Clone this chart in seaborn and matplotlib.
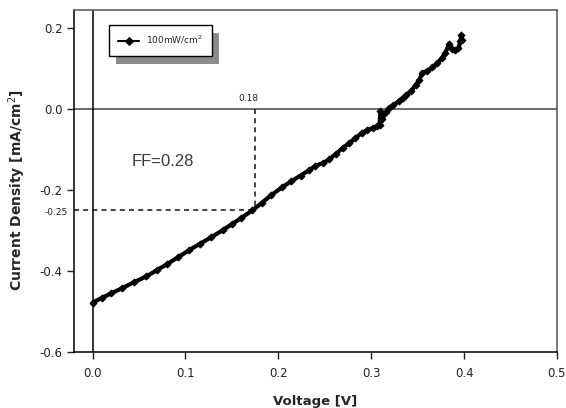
import numpy as np
import pandas as pd
import matplotlib
matplotlib.use("Agg")
import matplotlib.pyplot as plt
from matplotlib.patches import Rectangle
import seaborn as sns

# J-V curve under illumination
voltage = [0.000, 0.010, 0.020, 0.032, 0.045, 0.058, 0.069, 0.080, 0.092, 0.104,
           0.116, 0.128, 0.140, 0.150, 0.160, 0.172, 0.182, 0.192, 0.204, 0.214,
           0.224, 0.233, 0.240, 0.248, 0.255, 0.262, 0.270, 0.276, 0.283, 0.290,
           0.296, 0.302, 0.306, 0.309, 0.310, 0.312, 0.316, 0.319, 0.324, 0.330,
           0.334, 0.338, 0.343, 0.348, 0.352, 0.355, 0.360, 0.366, 0.371, 0.376,
           0.380, 0.384, 0.387, 0.390, 0.394, 0.396, 0.397, 0.398]
current = [-0.478, -0.466, -0.455, -0.442, -0.427, -0.413, -0.398, -0.383, -0.366, -0.348,
           -0.332, -0.316, -0.299, -0.284, -0.269, -0.250, -0.232, -0.213, -0.193, -0.178,
           -0.164, -0.151, -0.140, -0.133, -0.124, -0.110, -0.095, -0.084, -0.072, -0.058,
           -0.052, -0.046, -0.042, -0.038, -0.005, -0.025, -0.008, 0.002, 0.010, 0.020,
           0.028, 0.036, 0.045, 0.060, 0.072, 0.090, 0.094, 0.103, 0.113, 0.126,
           0.140, 0.162, 0.148, 0.145, 0.150, 0.168, 0.183, 0.170]
series_label = "100mW/cm$^2$"

# max power point and fill factor
v_mp = 0.175
j_mp = -0.25
v_mp_text = "0.18"
j_mp_text = "-0.25"
ff_text = "FF=0.28"

x_ticks = [0.0, 0.1, 0.2, 0.3, 0.4, 0.5]
y_ticks = [-0.6, -0.4, -0.2, 0.0, 0.2]

sns.set_theme(style="white")
plt.rcParams["font.family"] = ["DejaVu Sans"]
plt.rcParams["axes.unicode_minus"] = False

df = pd.DataFrame({"Voltage": voltage, "Current": current, "curve": series_label})

fig = plt.figure(figsize=(5.66, 4.08), dpi=100)
ax = fig.add_axes([0.1307, 0.137, 0.8533, 0.8385])

ax.axhline(0, color="#444444", lw=1.1, zorder=1)
ax.axvline(0, color="black", lw=1.1, zorder=1)

sns.lineplot(data=df, x="Voltage", y="Current", hue="curve", palette=["black"],
             sort=False, estimator=None, lw=3, marker="D", markersize=3.5,
             markeredgecolor="black", ax=ax, zorder=3)

ax.plot([v_mp, v_mp], [0, j_mp], ls=(0, (3, 2.5)), color="#222222", lw=1.2, zorder=2)
ax.plot([-0.02, v_mp], [j_mp, j_mp], ls=(0, (3, 2.5)), color="#222222", lw=1.2, zorder=2)

ax.text(0.168, 0.015, v_mp_text, ha="center", va="bottom", fontsize=6.5, color="#222222")
ax.text(0.042, -0.13, ff_text, ha="left", va="center", fontsize=12,
        family="Liberation Sans", color="#3a3a3a")
ax.text(-0.013, j_mp - 0.004, j_mp_text, ha="right", va="center", fontsize=6.5,
        color="#222222", transform=ax.get_yaxis_transform())

ax.set_xlim(-0.02, 0.5)
ax.set_ylim(-0.6, 0.245)
ax.set_xticks(x_ticks)
ax.set_yticks(y_ticks)
ax.set_xticklabels([f"{t:.1f}" for t in x_ticks])
ax.set_yticklabels([f"{t:.1f}" for t in y_ticks])
ax.tick_params(axis="both", direction="out", length=5, width=1, colors="#222222",
               labelsize=8.5, pad=3)
ax.tick_params(axis="x", bottom=True, pad=6)
ax.tick_params(axis="y", left=True)

ax.set_xlabel("Voltage [V]", fontsize=9.5, fontweight="bold")
ax.set_ylabel("Current Density [mA/cm$^2$]", fontsize=10, fontweight="bold")
ax.xaxis.set_label_coords(0.5, -0.125)
ax.yaxis.set_label_coords(-0.095, 0.475)

for side, sp in ax.spines.items():
    sp.set_visible(True)
    sp.set_linewidth(1.1)
    sp.set_color("black" if side in ("left", "bottom") else "#555555")

leg = ax.legend(loc="upper left", bbox_to_anchor=(0.072, 0.956), borderaxespad=0,
                fontsize=6.5, frameon=True, fancybox=False, handlelength=2.4,
                handletextpad=0.7, borderpad=1.0, edgecolor="black", framealpha=1)
leg.get_frame().set_linewidth(1.0)
leg.set_zorder(5)
for h in leg.legend_handles:
    h.set_linewidth(1.5)
    h.set_markersize(4)

# grey drop shadow behind the legend box
fig.canvas.draw()
bb = leg.get_window_extent()
shadow = Rectangle((bb.x0 + 7, bb.y0 - 8), bb.width, bb.height, transform=None,
                   facecolor="#8c8c8c", edgecolor="none", zorder=4)
ax.add_artist(shadow)

fig.savefig("out.png", dpi=100)
